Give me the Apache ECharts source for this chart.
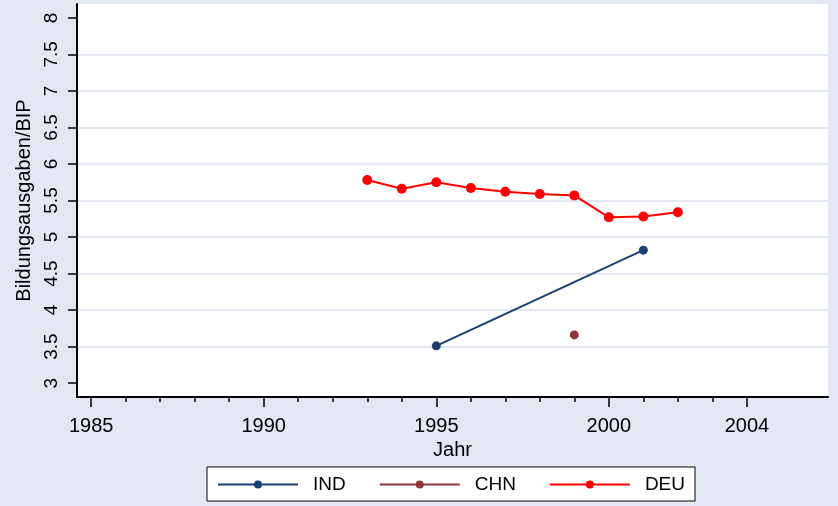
<!DOCTYPE html>
<html>
<head>
<meta charset="utf-8">
<script src="https://cdn.jsdelivr.net/npm/echarts@6/dist/echarts.min.js"></script>
<style>
html, body { margin: 0; padding: 0; background: #e2e7f1; }
#chart { width: 838px; height: 506px; }
</style>
</head>
<body>
<div id="chart"></div>
<script>
// Werte
var indData = [[1995, 3.51], [2001, 4.82]];
var chnData = [[1999, 3.66]];
var deuYears = [1993, 1994, 1995, 1996, 1997, 1998, 1999, 2000, 2001, 2002];
var deuValues = [5.78, 5.66, 5.75, 5.67, 5.62, 5.59, 5.57, 5.27, 5.28, 5.34];

var xMajor = [1985, 1990, 1995, 2000, 2004];
var xMinor = [1986, 1987, 1988, 1989, 1991, 1992, 1993, 1994, 1996, 1997, 1998, 1999, 2001, 2002, 2003];
var yTicks = [3, 3.5, 4, 4.5, 5, 5.5, 6, 6.5, 7, 7.5, 8];
var yGrid = [3.5, 4, 4.5, 5, 5.5, 6, 6.5, 7, 7.5];

var font = "'Liberation Sans', Arial, sans-serif";
var xMin = 1984.59, xMax = 2006.35;
var yMin = 2.81, yMax = 8.19;

var deuData = deuYears.map(function (y, i) { return [y, deuValues[i]]; });

var chart = echarts.init(document.getElementById('chart'));
chart.setOption({
	backgroundColor: '#e2e7f1',
	animation: false,
	textStyle: { fontFamily: font },
	grid: {
		left: 77, top: 4, right: 10, bottom: 109,
		show: true, backgroundColor: '#ffffff', borderWidth: 0
	},
	legend: {
		left: 207, top: 467,
		padding: [8, 10, 7, 10],
		backgroundColor: '#ffffff',
		borderColor: '#000000',
		borderWidth: 1,
		borderRadius: 0,
		itemWidth: 80,
		itemHeight: 10,
		itemGap: 33,
		textStyle: { fontSize: 19, color: '#000', fontFamily: font, padding: [0, 0, 0, 10] },
		data: ['IND', 'CHN', 'DEU']
	},
	xAxis: [{
		type: 'value', min: xMin, max: xMax,
		name: 'Jahr', nameLocation: 'middle', nameGap: 33,
		nameTextStyle: { fontSize: 20, color: '#000', fontFamily: font },
		axisLine: { show: true, lineStyle: { color: '#000', width: 2 } },
		axisTick: { show: true, length: 10, customValues: xMajor, lineStyle: { color: '#000', width: 1.5 } },
		axisLabel: {
			customValues: xMajor, fontSize: 20, color: '#000', margin: 19, fontFamily: font,
			formatter: function (v) { return String(v); }
		},
		splitLine: { show: false }
	}, {
		type: 'value', min: xMin, max: xMax, position: 'bottom',
		axisLine: { show: false },
		axisTick: { show: true, length: 5, customValues: xMinor, lineStyle: { color: '#000', width: 1.5 } },
		axisLabel: { show: false },
		splitLine: { show: false }
	}],
	yAxis: [{
		type: 'value', min: yMin, max: yMax,
		name: 'Bildungsausgaben/BIP', nameLocation: 'middle', nameGap: 39,
		nameTextStyle: { fontSize: 20, color: '#000', fontFamily: font },
		axisLine: { show: true, lineStyle: { color: '#000', width: 2 } },
		axisTick: { show: true, length: 9, customValues: yTicks, lineStyle: { color: '#000', width: 1.5 } },
		axisLabel: { customValues: yTicks, rotate: 90, fontSize: 19, color: '#000', margin: 16, fontFamily: font },
		splitLine: { show: false }
	}, {
		type: 'value', min: yMin, max: yMax, position: 'left',
		axisLine: { show: false },
		axisTick: { show: false, customValues: yGrid },
		axisLabel: { show: false },
		splitLine: { show: true, lineStyle: { color: '#e2e7f1', width: 2 } }
	}],
	series: [{
		name: 'IND', type: 'line', data: indData,
		symbol: 'circle', symbolSize: 9,
		itemStyle: { color: '#1a3f73' },
		lineStyle: { color: '#1a3f73', width: 2 }
	}, {
		name: 'CHN', type: 'line', data: chnData,
		symbol: 'circle', symbolSize: 9,
		itemStyle: { color: '#90353b' },
		lineStyle: { color: '#90353b', width: 2 }
	}, {
		name: 'DEU', type: 'line', data: deuData,
		symbol: 'circle', symbolSize: 10,
		itemStyle: { color: '#ff0000' },
		lineStyle: { color: '#ff0000', width: 2 }
	}]
});
</script>
</body>
</html>
